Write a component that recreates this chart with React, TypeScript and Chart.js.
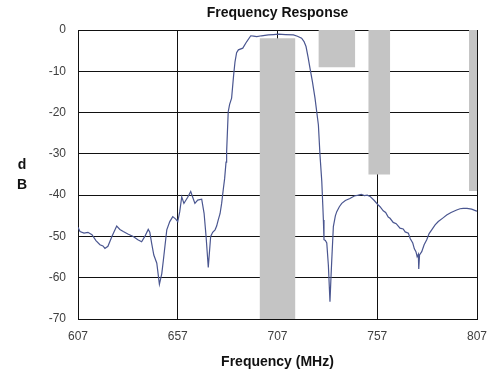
import React, { useEffect, useRef } from "react";
import { Chart, registerables } from "chart.js";

Chart.register(...registerables);

const freqMHz: number[] = [
  607, 608, 610, 612, 614, 616, 618, 619.5, 620.5, 622, 624, 626.4, 628, 629.7, 632, 634.7, 637, 638.9,
  640.5, 642.2, 643, 643.9, 645, 645.6, 646.5, 647.8, 649, 649.8, 651.5, 653, 654.5, 656, 657, 658, 659,
  660.1, 660.6, 662, 663.5, 664.5, 665.6, 667, 669, 670.2, 671.2, 672.3, 673.5, 674.5, 675.7, 676.5,
  677.3, 678.2, 679, 679.8, 680.5, 681.2, 681.5, 682.3, 683, 684, 685, 685.7, 686.5, 687.4, 689.6,
  691.6, 693.6, 695, 696.6, 699, 702.4, 705, 707.4, 711, 715, 717, 719.1, 720.3, 721.3, 722.3, 723.3,
  724.5, 725.8, 727.5, 728.3, 729.2, 729.7, 730, 730.3, 731, 731.7, 732.5, 733.3, 733.8, 734.2, 735,
  736, 736.7, 738, 739.2, 741, 743.3, 745.5, 747.5, 749, 750.5, 752, 753.4, 755.5, 757.5, 758.4, 760,
  761.2, 762.5, 763.4, 765, 766.5, 768.4, 770, 771, 772.6, 773.5, 774.8, 775.6, 776.4, 777, 777.6,
  777.8, 778.2, 779.3, 780.5, 781.8, 783, 784.3, 786, 787.6, 790, 791.8, 794, 796.8, 798.5, 800.1, 802,
  804.3, 806.5, 807,
];

const responseDb: number[] = [
  -47.8, -48.8, -49.2, -49.0, -49.6, -51.0, -52.0, -52.3, -52.9, -52.4, -50.0, -47.5, -48.3, -48.8,
  -49.4, -50.0, -50.8, -51.3, -50.0, -48.3, -49.0, -51.6, -54.5, -55.3, -56.5, -61.6, -59.0, -55.7,
  -48.4, -46.4, -45.2, -45.8, -46.4, -44.0, -40.4, -42.0, -41.6, -40.5, -39.1, -40.5, -42.0, -41.2,
  -41.0, -44.4, -50.0, -57.5, -50.0, -49.0, -48.4, -47.5, -46.0, -44.5, -42.0, -38.7, -36.0, -32.0,
  -29.5, -19.8, -18.0, -16.5, -11.0, -7.7, -5.5, -4.8, -4.4, -2.8, -1.4, -1.5, -1.6, -1.4, -1.2, -1.1,
  -1.0, -1.1, -1.2, -1.5, -2.0, -2.8, -4.0, -6.5, -9.3, -12.5, -16.5, -23.0, -30.3, -36.7, -42.4,
  -46.0, -50.8, -51.0, -51.6, -57.0, -65.8, -60.0, -55.7, -47.6, -45.0, -44.0, -42.8, -42.0, -41.3,
  -40.8, -40.2, -40.0, -39.8, -40.1, -40.0, -40.3, -41.3, -42.4, -42.8, -43.8, -44.2, -45.3, -45.6,
  -46.6, -46.9, -48.0, -48.2, -48.9, -49.2, -50.5, -51.6, -53.0, -53.7, -54.9, -54.3, -57.9, -54.5,
  -53.7, -52.0, -50.8, -49.3, -48.4, -47.2, -46.4, -45.5, -44.8, -44.2, -43.6, -43.3, -43.2, -43.2,
  -43.4, -43.8, -43.9,
];

// Shaded bands (MHz range, dB top, dB bottom)
const bandStart: number[] = [698, 727.5, 752.5, 803];
const bandEnd: number[] = [716, 746, 763.5, 807];
const bandTop: number[] = [-2, 0, 0, 0];
const bandBottom: number[] = [-70, -9, -35, -39];

const xTicks: number[] = [607, 657, 707, 757, 807];

const dbLabelPlugin = {
  id: "dbLabel",
  afterDraw(chart: any) {
    const ctx = chart.ctx;
    ctx.save();
    ctx.fillStyle = "#111";
    ctx.font = "bold 14px 'Liberation Sans', Arial, sans-serif";
    ctx.textAlign = "center";
    ctx.textBaseline = "middle";
    ctx.fillText("d", 22, 165);
    ctx.fillText("B", 22, 185);
    ctx.restore();
  },
};

export default function App() {
  const ref = useRef<HTMLCanvasElement | null>(null);

  useEffect(() => {
    if (!ref.current) return;
    const bandSets = bandStart.map((s, i) => ({
      data: [
        { x: s, y: bandTop[i] },
        { x: bandEnd[i], y: bandTop[i] },
      ],
      fill: { value: bandBottom[i] },
      backgroundColor: "#c4c4c4",
      borderWidth: 0,
      pointRadius: 0,
      order: 2,
    }));
    const chart = new Chart(ref.current, {
      type: "line",
      data: {
        datasets: [
          {
            data: freqMHz.map((f, i) => ({ x: f, y: responseDb[i] })),
            borderColor: "#4a5690",
            borderWidth: 1.2,
            pointRadius: 0,
            fill: false,
            tension: 0,
            order: 1,
          },
          ...bandSets,
        ] as any,
      },
      options: {
        responsive: false,
        animation: false,
        layout: { padding: { left: 0, right: 23, top: 0, bottom: 0 } },
        plugins: {
          legend: { display: false },
          tooltip: { enabled: false },
          title: {
            display: true,
            text: "Frequency Response",
            fullSize: false,
            color: "#111",
            font: { family: "'Liberation Sans', Arial, sans-serif", size: 14, weight: "bold" },
            padding: { top: 5, bottom: 8.2 },
          },
        },
        scales: {
          x: {
            type: "linear",
            min: 607,
            max: 807,
            z: 1,
            afterBuildTicks: (s: any) => {
              s.ticks = xTicks.map((v) => ({ value: v }));
            },
            afterFit: (s: any) => {
              s.height = 59;
            },
            grid: { color: "#111", lineWidth: 1, drawTicks: false },
            border: { display: true, color: "#111", width: 1 },
            ticks: {
              padding: 10,
              color: "#404040",
              font: { family: "'Liberation Sans', Arial, sans-serif", size: 12 },
              maxRotation: 0,
            },
            title: {
              display: true,
              text: "Frequency (MHz)",
              color: "#111",
              font: { family: "'Liberation Sans', Arial, sans-serif", size: 14, weight: "bold" },
              padding: { top: 0, bottom: 7 },
            },
          },
          y: {
            min: -70,
            max: 0,
            z: 1,
            afterFit: (s: any) => {
              s.width = 78;
            },
            grid: { color: "#111", lineWidth: 1, drawTicks: false },
            border: { display: true, color: "#111", width: 1 },
            ticks: {
              stepSize: 10,
              padding: 12,
              color: "#404040",
              font: { family: "'Liberation Sans', Arial, sans-serif", size: 12 },
            },
          },
        },
      } as any,
      plugins: [dbLabelPlugin],
    });
    return () => chart.destroy();
  }, []);

  return (
    <div style={{ position: "fixed", left: 0, top: 0, width: 500, height: 378, background: "#fff" }}>
      <canvas ref={ref} width={500} height={378} />
    </div>
  );
}
